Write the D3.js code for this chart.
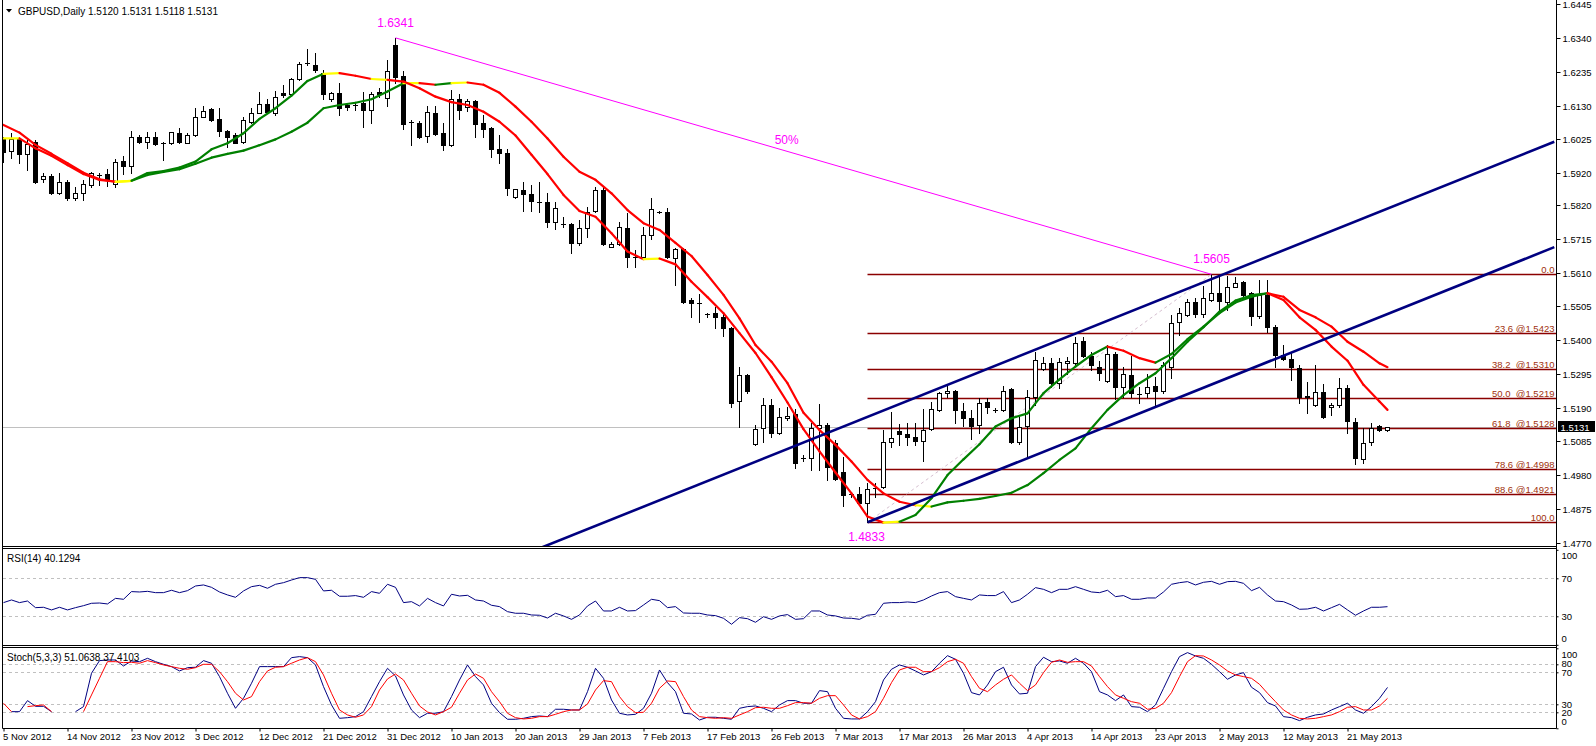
<!DOCTYPE html>
<html><head><meta charset="utf-8">
<script src="https://cdn.jsdelivr.net/npm/d3@7"></script>
<style>
body{margin:0;background:#fff}
svg{display:block}
text{font-family:"Liberation Sans",Arial,sans-serif}
</style>
</head><body>
<svg id="c" width="1596" height="746"></svg>
<script>
// ---------------- DATA ----------------
const symbolTitle = "GBPUSD,Daily 1.5120 1.5131 1.5118 1.5131";
const rsiTitle = "RSI(14) 40.1294";
const stochTitle = "Stoch(5,3,3) 51.0638 37.4103";

const dateLabels = ["5 Nov 2012","14 Nov 2012","23 Nov 2012","3 Dec 2012","12 Dec 2012","21 Dec 2012","31 Dec 2012","10 Jan 2013","20 Jan 2013","29 Jan 2013","7 Feb 2013","17 Feb 2013","26 Feb 2013","7 Mar 2013","17 Mar 2013","26 Mar 2013","4 Apr 2013","14 Apr 2013","23 Apr 2013","2 May 2013","12 May 2013","21 May 2013"];
const dateLabelBars = [0,8,16,24,32,40,48,56,64,72,80,88,96,104,112,120,128,136,144,152,160,168];

const priceTicks = [1.6445,1.6340,1.6235,1.6130,1.6025,1.5920,1.5820,1.5715,1.5610,1.5505,1.5400,1.5295,1.5190,1.5085,1.4980,1.4875,1.4770];
const rsiTicks = [100,70,30,0];
const rsiLevels = [70,30];
const stochTicks = [100,80,70,30,20,0];
const stochLevels = [80,70,30,20];

const opens = [1.6029,1.5990,1.6026,1.5980,1.6017,1.5902,1.5912,1.5859,1.5893,1.5842,
1.5857,1.5883,1.5914,1.5917,1.5885,1.5958,1.5943,1.6033,1.6018,1.6033,
1.6015,1.6013,1.6044,1.6015,1.6039,1.6096,1.6119,1.6089,1.6051,1.6039,
1.6018,1.6080,1.6108,1.6134,1.6106,1.6169,1.6166,1.6213,1.6262,1.6257,
1.6231,1.6150,1.6169,1.6132,1.6131,1.6137,1.6117,1.6174,1.6153,1.6319,
1.6222,1.6080,1.6077,1.6037,1.6108,1.6046,1.6008,1.6150,1.6127,1.6146,
1.6077,1.6060,1.5995,1.5982,1.5845,1.5867,1.5854,1.5831,1.5829,1.5769,
1.5762,1.5762,1.5703,1.5748,1.5803,1.5867,1.5689,1.5699,1.5748,1.5658,
1.5660,1.5727,1.5800,1.5798,1.5655,1.5684,1.5525,1.5515,1.5482,1.5484,
1.5473,1.5437,1.5210,1.5293,1.5076,1.5126,1.5197,1.5110,1.5159,1.5169,
1.5032,1.5032,1.5126,1.5136,1.5081,1.4991,1.4920,1.4920,1.4892,1.4941,
1.4942,1.5082,1.5118,1.5108,1.5100,1.5087,1.5123,1.5183,1.5235,1.5243,
1.5180,1.5157,1.5136,1.5209,1.5183,1.5183,1.5247,1.5084,1.5133,1.5224,
1.5310,1.5328,1.5268,1.5328,1.5328,1.5398,1.5351,1.5317,1.5274,1.5357,
1.5253,1.5290,1.5232,1.5235,1.5257,1.5242,1.5317,1.5455,1.5478,1.5520,
1.5482,1.5525,1.5548,1.5520,1.5567,1.5582,1.5546,1.5475,1.5541,1.5442,
1.5354,1.5340,1.5312,1.5227,1.5198,1.5240,1.5193,1.5198,1.5250,1.5146,
1.5029,1.5082,1.5134,1.5120];

const highs = [1.6033,1.6045,1.6033,1.6023,1.6023,1.5920,1.5917,1.5920,1.5899,1.5877,
1.5899,1.5924,1.5920,1.5933,1.5963,1.5974,1.6051,1.6039,1.6049,1.6049,
1.6018,1.6049,1.6060,1.6046,1.6122,1.6129,1.6122,1.6122,1.6054,1.6044,
1.6096,1.6122,1.6174,1.6150,1.6177,1.6194,1.6215,1.6267,1.6306,1.6295,
1.6241,1.6174,1.6200,1.6137,1.6142,1.6174,1.6174,1.6184,1.6272,1.6341,
1.6239,1.6085,1.6083,1.6129,1.6129,1.6075,1.6179,1.6166,1.6150,1.6148,
1.6101,1.6063,1.6039,1.5994,1.5871,1.5893,1.5883,1.5893,1.5857,1.5831,
1.5784,1.5766,1.5774,1.5816,1.5876,1.5876,1.5706,1.5769,1.5795,1.5681,
1.5753,1.5842,1.5802,1.5811,1.5686,1.5688,1.5530,1.5544,1.5486,1.5504,
1.5489,1.5442,1.5317,1.5295,1.5136,1.5219,1.5216,1.5188,1.5191,1.5185,
1.5043,1.5141,1.5201,1.5141,1.5089,1.5035,1.4925,1.4944,1.4955,1.4955,
1.5120,1.5177,1.5139,1.5141,1.5143,1.5185,1.5209,1.5240,1.5257,1.5245,
1.5205,1.5183,1.5219,1.5219,1.5188,1.5257,1.5250,1.5162,1.5245,1.5364,
1.5347,1.5344,1.5344,1.5349,1.5409,1.5409,1.5364,1.5335,1.5385,1.5364,
1.5317,1.5351,1.5255,1.5295,1.5286,1.5333,1.5478,1.5499,1.5528,1.5530,
1.5569,1.5605,1.5598,1.5600,1.5598,1.5584,1.5551,1.5587,1.5587,1.5447,
1.5385,1.5364,1.5323,1.5271,1.5323,1.5264,1.5203,1.5281,1.5260,1.5157,
1.5126,1.5141,1.5136,1.5131];

const lows = [1.5955,1.5967,1.5952,1.5930,1.5889,1.5892,1.5855,1.5855,1.5836,1.5836,
1.5836,1.5878,1.5883,1.5880,1.5878,1.5916,1.5921,1.6015,1.5997,1.6008,
1.5961,1.6011,1.6015,1.6013,1.6036,1.6094,1.6083,1.6036,1.6002,1.6013,
1.6015,1.6077,1.6106,1.6106,1.6101,1.6158,1.6163,1.6210,1.6257,1.6236,
1.6150,1.6146,1.6101,1.6117,1.6117,1.6065,1.6077,1.6158,1.6129,1.6200,
1.6057,1.6008,1.6030,1.6018,1.6039,1.5992,1.6004,1.6088,1.6114,1.6032,
1.6033,1.5971,1.5953,1.5852,1.5842,1.5803,1.5803,1.5800,1.5753,1.5745,
1.5753,1.5672,1.5696,1.5722,1.5800,1.5696,1.5689,1.5696,1.5629,1.5629,
1.5658,1.5714,1.5797,1.5655,1.5572,1.5517,1.5471,1.5458,1.5473,1.5437,
1.5414,1.5191,1.5129,1.5235,1.5073,1.5084,1.5100,1.5108,1.5152,1.5001,
1.5025,1.4996,1.4996,1.4965,1.4965,1.4884,1.4913,1.4887,1.4833,1.4913,
1.4939,1.5068,1.5074,1.5074,1.5074,1.5025,1.5120,1.5178,1.5224,1.5141,
1.5133,1.5092,1.5110,1.5174,1.5177,1.5181,1.5079,1.5077,1.5037,1.5198,
1.5307,1.5253,1.5250,1.5295,1.5323,1.5349,1.5307,1.5276,1.5271,1.5216,
1.5222,1.5224,1.5204,1.5224,1.5193,1.5235,1.5281,1.5416,1.5475,1.5473,
1.5471,1.5523,1.5494,1.5494,1.5565,1.5538,1.5447,1.5468,1.5426,1.5316,
1.5338,1.5276,1.5205,1.5172,1.5195,1.5157,1.5166,1.5193,1.5110,1.5015,
1.5019,1.5074,1.5118,1.5118];

const closes = [1.5986,1.6025,1.5980,1.6011,1.5892,1.5912,1.5859,1.5893,1.5842,1.5859,
1.5886,1.5919,1.5914,1.5899,1.5954,1.5943,1.6033,1.6018,1.6033,1.6011,
1.6015,1.6047,1.6018,1.6039,1.6094,1.6113,1.6085,1.6052,1.6032,1.6015,
1.6085,1.6108,1.6134,1.6111,1.6156,1.6163,1.6213,1.6259,1.6262,1.6241,
1.6165,1.6169,1.6122,1.6125,1.6131,1.6117,1.6166,1.6166,1.6239,1.6218,
1.6073,1.6080,1.6033,1.6111,1.6042,1.6008,1.6150,1.6117,1.6145,1.6073,
1.6057,1.5994,1.5982,1.5873,1.5870,1.5854,1.5833,1.5831,1.5769,1.5811,
1.5762,1.5703,1.5748,1.5800,1.5867,1.5699,1.5699,1.5751,1.5658,1.5658,
1.5727,1.5807,1.5800,1.5658,1.5683,1.5520,1.5515,1.5515,1.5482,1.5471,
1.5439,1.5205,1.5293,1.5243,1.5123,1.5197,1.5110,1.5160,1.5165,1.5017,
1.5032,1.5126,1.5136,1.5004,1.4967,1.4918,1.4920,1.4892,1.4936,1.4941,
1.5084,1.5095,1.5107,1.5098,1.5087,1.5120,1.5185,1.5236,1.5243,1.5183,
1.5157,1.5133,1.5205,1.5193,1.5183,1.5243,1.5084,1.5131,1.5224,1.5338,
1.5328,1.5268,1.5333,1.5336,1.5392,1.5351,1.5323,1.5299,1.5357,1.5253,
1.5295,1.5235,1.5232,1.5253,1.5243,1.5323,1.5453,1.5484,1.5520,1.5482,
1.5530,1.5548,1.5523,1.5565,1.5579,1.5541,1.5475,1.5541,1.5442,1.5354,
1.5340,1.5315,1.5224,1.5222,1.5240,1.5162,1.5198,1.5250,1.5149,1.5032,
1.5079,1.5126,1.5120,1.5131];

// moving averages read every second bar (bars 0,2,...,172 and the last bar 173)
const maBars = [0,2,4,6,8,10,12,14,16,18,20,22,24,26,28,30,32,34,36,38,40,42,44,46,48,50,52,54,56,58,60,62,64,66,68,70,72,74,76,78,80,82,84,86,88,90,92,94,96,98,100,102,104,106,108,110,112,114,116,118,120,122,124,126,128,130,132,134,136,138,140,142,144,146,148,150,152,154,156,158,160,162,164,166,168,170,172,173];
const maFast = [1.6028,1.6028,1.5997,1.5974,1.5945,1.5917,1.5899,1.5893,1.5896,1.5920,
1.5926,1.5937,1.5956,1.5994,1.6013,1.6044,1.6089,1.6122,1.6161,1.6207,
1.6229,1.6231,1.6223,1.6213,1.6210,1.6205,1.6184,1.6158,1.6141,1.6132,
1.6111,1.6080,1.6037,1.5977,1.5917,1.5852,1.5802,1.5784,1.5733,1.5676,
1.5652,1.5654,1.5636,1.5582,1.5534,1.5484,1.5422,1.5360,1.5285,1.5206,
1.5123,1.5054,1.4988,1.4923,1.4851,1.4832,1.4835,1.4856,1.4908,1.4980,
1.5029,1.5076,1.5131,1.5157,1.5172,1.5235,1.5278,1.5318,1.5354,1.5380,
1.5367,1.5344,1.5330,1.5357,1.5403,1.5442,1.5484,1.5517,1.5535,1.5546,
1.5525,1.5471,1.5432,1.5380,1.5336,1.5261,1.5209,1.5183];
const maSlow = [1.6070,1.6046,1.6008,1.5980,1.5951,1.5921,1.5901,1.5893,1.5896,1.5914,
1.5924,1.5932,1.5949,1.5968,1.5980,1.5990,1.6007,1.6025,1.6049,1.6077,
1.6122,1.6132,1.6139,1.6150,1.6174,1.6200,1.6200,1.6195,1.6200,1.6202,
1.6195,1.6170,1.6127,1.6080,1.6028,1.5971,1.5924,1.5899,1.5857,1.5805,
1.5764,1.5743,1.5703,1.5662,1.5603,1.5541,1.5468,1.5385,1.5333,1.5266,
1.5174,1.5120,1.5074,1.5022,1.4965,1.4923,1.4897,1.4886,1.4882,1.4895,
1.4900,1.4906,1.4915,1.4925,1.4949,1.4986,1.5027,1.5063,1.5126,1.5183,
1.5229,1.5266,1.5297,1.5344,1.5395,1.5440,1.5489,1.5523,1.5540,1.5546,
1.5535,1.5494,1.5471,1.5442,1.5395,1.5364,1.5328,1.5316];

const rsi = [44.4,47.2,44.4,46.1,39.1,39.5,36.7,39.5,36.7,39.1,41.2,43.7,44.0,43.0,48.9,47.9,56.0,55.6,56.3,54.9,
54.9,57.4,54.9,57.0,61.9,63.0,60.5,55.6,52.5,50.0,56.7,61.2,62.6,59.5,63.7,65.4,68.2,70.7,70.7,68.9,
56.7,57.4,51.1,51.1,51.8,50.0,56.0,54.2,63.7,60.5,44.4,45.4,40.9,48.9,44.4,40.9,53.2,51.4,52.1,47.2,
46.1,41.6,40.2,34.9,33.2,33.2,31.4,31.1,28.2,33.2,30.4,26.8,31.4,40.9,46.1,35.6,35.6,39.5,35.6,36.0,
41.9,47.9,46.5,39.1,40.2,33.5,33.2,33.2,31.4,30.7,27.9,21.6,28.6,27.5,23.7,29.6,26.8,30.4,31.8,26.8,
27.5,35.6,35.6,31.4,30.4,28.2,27.9,26.8,31.1,32.1,43.7,44.4,44.4,45.1,44.4,47.2,51.4,54.9,56.0,50.7,
48.9,47.2,52.5,51.8,51.8,56.0,44.4,47.2,53.2,60.2,58.4,54.9,58.4,58.4,61.2,58.4,55.6,54.9,57.4,50.7,
51.8,47.9,47.9,49.3,49.3,55.6,63.7,65.4,66.5,63.0,65.8,66.8,63.7,66.5,66.8,64.7,57.0,60.5,52.5,46.1,
45.4,41.9,37.4,37.7,39.5,35.6,39.1,42.6,36.7,31.1,35.6,39.5,39.5,40.13];

const stochK = [null,20.8,20.8,34.6,27.5,27.5,20.8,null,null,20.8,27.1,68.8,84.6,85.4,85.4,77.9,84.2,83.3,87.5,83.3,
80,77.1,71.7,75.8,76.3,84.6,81.3,64.6,43.8,25,37.5,56.3,77.1,77.1,77.1,77.1,88.3,89.6,88.3,79.2,
52.1,29.2,12.5,13.3,14.6,20.8,39.6,58.3,75,65.4,41.7,22.9,13.3,18.8,18.8,20.8,39.6,60.4,79.2,64.6,
54.2,31.3,19.6,11.3,11.3,12.5,14.6,15.4,14.6,23.8,23.8,22.9,22.9,45.8,75,62.5,35.4,18.8,16.7,17.5,
25,43.8,72.9,57.1,45.8,18.8,17.9,10.4,13.8,13.8,12.5,11.3,25,27.1,27.9,25,20.8,29.2,34.6,34.6,
31.3,31.3,47.1,45.8,25,12.5,11.7,11.7,20.8,33.3,60.4,73.8,79.2,76.3,71.7,66.7,70.8,81.3,90.8,86.3,
68.8,44.6,41.7,54.2,70.8,76.3,54.2,42.9,43.8,77.1,88.8,83.3,84.2,81.3,87.5,81.3,70.8,45.8,41.7,34.6,
41.7,27.1,26.3,20.8,29.2,50,70.8,89.6,94.6,90.4,87.5,80,70.8,61.3,66.7,69.6,51.3,44.6,32.1,27.9,
14.6,13.3,9.6,13.8,16.7,17.9,22.9,27.1,31.3,22.9,18.8,27.1,37.5,51.06];

const stochD = [31.3,20.8,null,27.1,28.3,29.2,20.8,null,null,null,20.8,41.7,62.5,83.3,83.3,82.1,82.5,81.3,84.6,82.1,
79.2,77.1,75,73.8,75.8,80,80,70.8,58.3,43.8,35.4,39.6,58.3,71.7,76.3,77.1,81.3,85.4,88.3,83.3,
66.7,43.8,22.9,16.7,13.8,16.7,27.1,47.9,61.7,67.9,60.4,43.8,27.9,20.4,16.7,20.8,26.3,43.8,60.4,67.9,
62.5,45.8,33.3,18.8,13.3,11.7,12.5,14.6,14.6,17.5,20.8,22.9,22.9,30.4,47.9,59.6,58.3,39.6,27.1,19.6,
20,31.3,50,59.2,58.3,39.6,22.9,14.6,13.3,12.5,13.3,12.5,16.7,20.8,25.8,26.3,25,25,28.3,32.1,
32.1,31.3,37.5,40.8,40.8,29.2,16.7,11.7,14.6,20.8,37.5,57.1,72.9,76.3,76.3,70.8,70.8,75.8,83.3,86.3,
81.3,64.6,50,45.8,54.2,61.3,66.7,56.3,47.1,54.2,69.6,82.5,85.4,82.5,83.3,83.3,77.9,64.6,52.1,41.7,
37.5,33.3,31.3,23.8,25,31.3,44.6,64.6,83.3,90.8,90.4,85.4,79.2,71.7,66.7,64.6,62.5,55,43.8,33.3,
22.9,16.7,12.5,11.7,12.5,14.6,16.7,20.8,26.3,27.1,22.9,22.9,27.9,37.41];

// drawing objects (bar index, price)
const swingPoints = [{bar:49, price:1.6341, label:"1.6341"},{bar:151, price:1.5605, label:"1.5605"},{bar:108, price:1.4833, label:"1.4833"}];
const fibLevels = ["0.0","23.6 @1.5423","38.2  @1.5310","50.0  @1.5219","61.8  @1.5128","78.6 @1.4998","88.6 @1.4921","100.0"];
const fibPrices = [1.5605,1.5423,1.5310,1.5219,1.5128,1.4998,1.4921,1.4833];
const fibStartBar = 108;
const channelUpper = [{bar:108, price:1.5161},{bar:151, price:1.5590}];
const channelLower = [{bar:108, price:1.4833},{bar:151, price:1.5262}];
const lastPrice = 1.5131;

// ---------------- LAYOUT ----------------
const svg = d3.select("#c");
const AX = 1556.5;           // right axis line
const LEFT = 2.5;
const main = {top:0, bottom:546};
const rsiP = {top:548, bottom:645};
const stoP = {top:647, bottom:728};

const nBars = closes.length;
const x = d3.scaleLinear().domain([0,1]).range([3,11]);   // 8 px per bar
const xc = i => x(i) + 0.5;
const y = d3.scaleLinear().domain([1.4833,1.5605]).range([522.3,274.3]);
const yR = d3.scaleLinear().domain([0,100]).range([644.8,549.8]);
const yS = d3.scaleLinear().domain([0,100]).range([728.3,648.3]);

svg.append("rect").attr("width",1596).attr("height",746).attr("fill","#fff");

const defs = svg.append("defs");
defs.append("clipPath").attr("id","clipMain").append("rect").attr("x",3).attr("y",0).attr("width",AX-3).attr("height",main.bottom);
defs.append("clipPath").attr("id","clipRsi").append("rect").attr("x",3).attr("y",rsiP.top+1).attr("width",AX-3).attr("height",rsiP.bottom-rsiP.top-1);
defs.append("clipPath").attr("id","clipSto").append("rect").attr("x",3).attr("y",stoP.top+1).attr("width",AX-3).attr("height",stoP.bottom-stoP.top-1);

const gMain = svg.append("g").attr("clip-path","url(#clipMain)");

// current price line
gMain.append("line").attr("x1",3).attr("x2",AX).attr("y1",Math.round(y(lastPrice))+0.5).attr("y2",Math.round(y(lastPrice))+0.5)
  .attr("stroke","#c0c0c0").attr("stroke-width",1);

// fib lines
const fibG = gMain.append("g");
fibPrices.forEach((p,k)=>{
  const yy = Math.round(y(p))+0.5;
  fibG.append("line").attr("x1",xc(fibStartBar)).attr("x2",AX).attr("y1",yy).attr("y2",yy)
    .attr("stroke","#8b0000").attr("stroke-width",1.3);
  fibG.append("text").attr("x",AX-2).attr("y",yy-2).attr("text-anchor","end")
    .attr("font-size","9.5px").attr("fill","#a0300c").style("white-space","pre").text(fibLevels[k]);
});
// fib trend (dotted)
gMain.append("line").attr("x1",xc(swingPoints[2].bar)).attr("y1",y(swingPoints[2].price))
  .attr("x2",xc(swingPoints[1].bar)).attr("y2",y(swingPoints[1].price))
  .attr("stroke","#d6bfd0").attr("stroke-width",1).attr("stroke-dasharray","3,3");

// candles
const gC = gMain.append("g");
d3.range(nBars).forEach(i=>{
  const o=opens[i],h=highs[i],l=lows[i],c=closes[i];
  const cx = xc(i);
  gC.append("line").attr("x1",cx).attr("x2",cx)
    .attr("y1",Math.round(y(h))).attr("y2",Math.round(y(l))+1)
    .attr("stroke","#000").attr("stroke-width",1);
  const yt = Math.round(y(Math.max(o,c))), yb = Math.round(y(Math.min(o,c)));
  if (yb - yt < 1) {
    gC.append("line").attr("x1",cx-2.5).attr("x2",cx+2.5).attr("y1",yt+0.5).attr("y2",yt+0.5).attr("stroke","#000");
  } else {
    gC.append("rect").attr("x",cx-2).attr("y",yt+0.5).attr("width",4).attr("height",yb-yt)
      .attr("fill", c>o ? "#fff" : "#000").attr("stroke","#000").attr("stroke-width",1);
  }
});

// moving averages, coloured by slope
function drawMA(vals){
  const g = gMain.append("g");
  for(let k=0;k<vals.length-1;k++){
    const d = (vals[k+1]-vals[k])/(maBars[k+1]-maBars[k]);
    const col = Math.abs(d) < 0.00022 ? "#ffff00" : (d>0 ? "#008000" : "#ff0000");
    g.append("line").attr("x1",xc(maBars[k])).attr("y1",y(vals[k]))
      .attr("x2",xc(maBars[k+1])).attr("y2",y(vals[k+1]))
      .attr("stroke",col).attr("stroke-width",2.2).attr("stroke-linecap","round");
  }
}
drawMA(maSlow);
drawMA(maFast);

// channel lines
function extend(pts, leftBar, rightBar){
  const s = (pts[1].price-pts[0].price)/(pts[1].bar-pts[0].bar);
  const pAt = b => pts[0].price + s*(b-pts[0].bar);
  return [[xc(leftBar), y(pAt(leftBar))],[xc(rightBar), y(pAt(rightBar))]];
}
const rightBar = (AX-3.5-3)/8 + 0.1;
[extend(channelUpper, 0, rightBar), extend(channelLower, channelLower[0].bar, rightBar)].forEach(seg=>{
  gMain.append("line").attr("x1",seg[0][0]).attr("y1",seg[0][1]).attr("x2",seg[1][0]).attr("y2",seg[1][1])
    .attr("stroke","#000080").attr("stroke-width",2.6);
});

// magenta swing line + labels
gMain.append("line").attr("x1",xc(swingPoints[0].bar)).attr("y1",y(swingPoints[0].price))
  .attr("x2",xc(swingPoints[1].bar)).attr("y2",y(swingPoints[1].price))
  .attr("stroke","#ff00ff").attr("stroke-width",1);
gMain.append("text").attr("x",xc(swingPoints[0].bar)).attr("y",y(swingPoints[0].price)-11)
  .attr("text-anchor","middle").attr("font-size","12px").attr("fill","#ff00ff").text(swingPoints[0].label);
gMain.append("text").attr("x",xc(swingPoints[1].bar)).attr("y",y(swingPoints[1].price)-11)
  .attr("text-anchor","middle").attr("font-size","12px").attr("fill","#ff00ff").text(swingPoints[1].label);
gMain.append("text").attr("x",xc(swingPoints[2].bar)-1).attr("y",y(swingPoints[2].price)+19)
  .attr("text-anchor","middle").attr("font-size","12px").attr("fill","#ff00ff").text(swingPoints[2].label);
{
  const b = 97.9;
  const p = swingPoints[0].price + (swingPoints[1].price-swingPoints[0].price)*(b-swingPoints[0].bar)/(swingPoints[1].bar-swingPoints[0].bar);
  gMain.append("text").attr("x",xc(b)).attr("y",y(p)-7).attr("text-anchor","middle")
    .attr("font-size","12px").attr("fill","#ff00ff").text("50%");
}

// header
svg.append("path").attr("d","M6,9 L12,9 L9,12.5 Z").attr("fill","#000");
svg.append("text").attr("x",18).attr("y",14.5).attr("font-size","10px").attr("fill","#000").text(symbolTitle);

// ---------------- RSI ----------------
const gR = svg.append("g").attr("clip-path","url(#clipRsi)");
rsiLevels.forEach(v=>{
  gR.append("line").attr("x1",3).attr("x2",AX).attr("y1",Math.round(yR(v))+0.5).attr("y2",Math.round(yR(v))+0.5)
    .attr("stroke","#c0c0c0").attr("stroke-dasharray","3,3");
});
gR.append("path").datum(rsi).attr("fill","none").attr("stroke","#000080").attr("stroke-width",1)
  .attr("d", d3.line().x((d,i)=>xc(i)).y(d=>yR(d)));
svg.append("text").attr("x",7).attr("y",561.5).attr("font-size","10px").attr("fill","#000").text(rsiTitle);

// ---------------- STOCH ----------------
const gS = svg.append("g").attr("clip-path","url(#clipSto)");
stochLevels.forEach(v=>{
  gS.append("line").attr("x1",3).attr("x2",AX).attr("y1",Math.round(yS(v))+0.5).attr("y2",Math.round(yS(v))+0.5)
    .attr("stroke","#c0c0c0").attr("stroke-dasharray","3,3");
});
const sLine = d3.line().defined(d=>d!==null).x((d,i)=>xc(i)).y(d=>yS(d));
gS.append("path").datum(stochK).attr("fill","none").attr("stroke","#000080").attr("stroke-width",1).attr("d",sLine);
gS.append("path").datum(stochD).attr("fill","none").attr("stroke","#ff0000").attr("stroke-width",1).attr("d",sLine);
svg.append("text").attr("x",7).attr("y",660.5).attr("font-size","10px").attr("fill","#000").text(stochTitle);

// ---------------- FRAMES ----------------
const frame = svg.append("g").attr("stroke","#000").attr("stroke-width",1).attr("fill","none");
frame.append("line").attr("x1",LEFT).attr("x2",LEFT).attr("y1",0).attr("y2",stoP.bottom+0.5);
frame.append("line").attr("x1",AX).attr("x2",AX).attr("y1",0).attr("y2",stoP.bottom+0.5);
[main.bottom+0.5, rsiP.top+0.5, rsiP.bottom+0.5, stoP.top+0.5, stoP.bottom+0.5].forEach(yy=>{
  frame.append("line").attr("x1",LEFT).attr("x2",AX).attr("y1",yy).attr("y2",yy);
});

// ---------------- AXES ----------------
function styleAxis(g){
  g.select(".domain").remove();
  g.selectAll("text").attr("font-family","'Liberation Sans',Arial,sans-serif").attr("font-size","9.5px").attr("fill","#000");
  g.selectAll("line").attr("stroke","#000");
}
const axMain = svg.append("g").attr("transform",`translate(${AX},0)`)
  .call(d3.axisRight(y).tickValues(priceTicks).tickFormat(d3.format(".4f")).tickSize(4).tickPadding(2));
styleAxis(axMain);
axMain.selectAll(".tick").attr("transform", d=>`translate(0,${Math.round(y(d))+0.5})`);

// current price tag
svg.append("rect").attr("x",AX+1.5).attr("y",Math.round(y(lastPrice))-6).attr("width",37).attr("height",11).attr("fill","#000");
svg.append("text").attr("x",AX+4).attr("y",Math.round(y(lastPrice))+3.5).attr("font-size","9.5px").attr("fill","#fff").text(lastPrice.toFixed(4));

const axR = svg.append("g").attr("transform",`translate(${AX},0)`)
  .call(d3.axisRight(yR).tickValues(rsiTicks).tickFormat(d3.format("d")).tickSize(2).tickPadding(3));
styleAxis(axR);
axR.selectAll(".tick text").attr("dy", d=> d===100 ? "0.95em" : (d===0 ? "-0.35em" : "0.32em"));

const axS = svg.append("g").attr("transform",`translate(${AX},0)`)
  .call(d3.axisRight(yS).tickValues(stochTicks).tickFormat(d3.format("d")).tickSize(2).tickPadding(3));
styleAxis(axS);
axS.selectAll(".tick text").attr("dy", d=> d===100 ? "0.95em" : (d===0 ? "-0.35em" : (d===80 ? "0.2em" : "0.32em")));

const axX = svg.append("g").attr("transform",`translate(0,${stoP.bottom+0.5})`)
  .call(d3.axisBottom(d3.scaleLinear().domain([0,1]).range([3.5,11.5]))
    .tickValues(dateLabelBars).tickFormat((d,k)=>dateLabels[k]).tickSize(3).tickPadding(2));
styleAxis(axX);
axX.selectAll(".tick text").attr("text-anchor","start").attr("dx","-1").attr("font-size","9.5px");
</script>
</body></html>
